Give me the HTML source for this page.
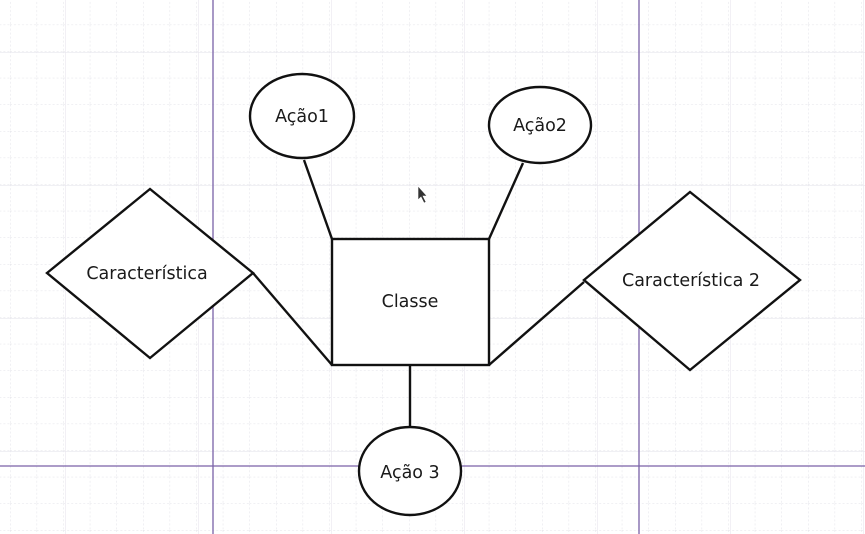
<!DOCTYPE html>
<html><head><meta charset="utf-8"><style>
html,body{margin:0;padding:0;background:#fff;}
svg{display:block;}
text{font-family:"DejaVu Sans","Liberation Sans",sans-serif;font-size:17.5px;fill:#1a1a1a;}
</style></head><body>
<svg width="865" height="534" viewBox="0 0 865 534" xmlns="http://www.w3.org/2000/svg">
<defs>
<pattern id="minor" x="10" y="-2" width="26.6" height="26.6" patternUnits="userSpaceOnUse">
<path d="M0 0V26.6M0 0H26.6" stroke="#e2e2e8" stroke-width="1" stroke-dasharray="2 2" fill="none"/>
</pattern>
<pattern id="major" x="65" y="52" width="133" height="133" patternUnits="userSpaceOnUse">
<path d="M0 0V133M0 0H133" stroke="#e8e6ee" stroke-width="1.2" fill="none"/>
</pattern>
</defs>
<rect width="865" height="534" fill="url(#minor)"/>
<rect width="865" height="534" fill="url(#major)"/>
<g stroke="#7a62a8" stroke-width="1.3">
<line x1="213" y1="0" x2="213" y2="534"/>
<line x1="639" y1="0" x2="639" y2="534"/>
<line x1="0" y1="466" x2="865" y2="466"/>
</g>
<g stroke="#111" stroke-width="2.4" fill="none">
<line x1="304" y1="160" x2="332" y2="239"/>
<line x1="523" y1="163" x2="489" y2="239"/>
<line x1="253" y1="273" x2="332" y2="365"/>
<line x1="584" y1="282" x2="489" y2="365"/>
<line x1="410" y1="365" x2="410" y2="428"/>
</g>
<g stroke="#111" stroke-width="2.4" fill="#fff">
<ellipse cx="302" cy="116" rx="52" ry="42"/>
<ellipse cx="540" cy="125" rx="51" ry="38"/>
<ellipse cx="410" cy="471" rx="51" ry="44"/>
<rect x="332" y="239" width="157" height="126"/>
<polygon points="47,273 150,189 253,273 150,358"/>
<polygon points="584,280 690,192 800,280 690,370"/>
</g>
<text x="302" y="122" text-anchor="middle">Ação1</text>
<text x="540" y="131" text-anchor="middle">Ação2</text>
<text x="410" y="478" text-anchor="middle">Ação 3</text>
<text x="410" y="307" text-anchor="middle">Classe</text>
<text x="147" y="279" text-anchor="middle">Característica</text>
<text x="691" y="286" text-anchor="middle">Característica 2</text>
<path d="M418 186 L418 200 L421 197 L424 203 L426 202 L423 196 L427 196 Z" fill="#333" stroke="#fff" stroke-width="0.6"/>
</svg>
</body></html>
